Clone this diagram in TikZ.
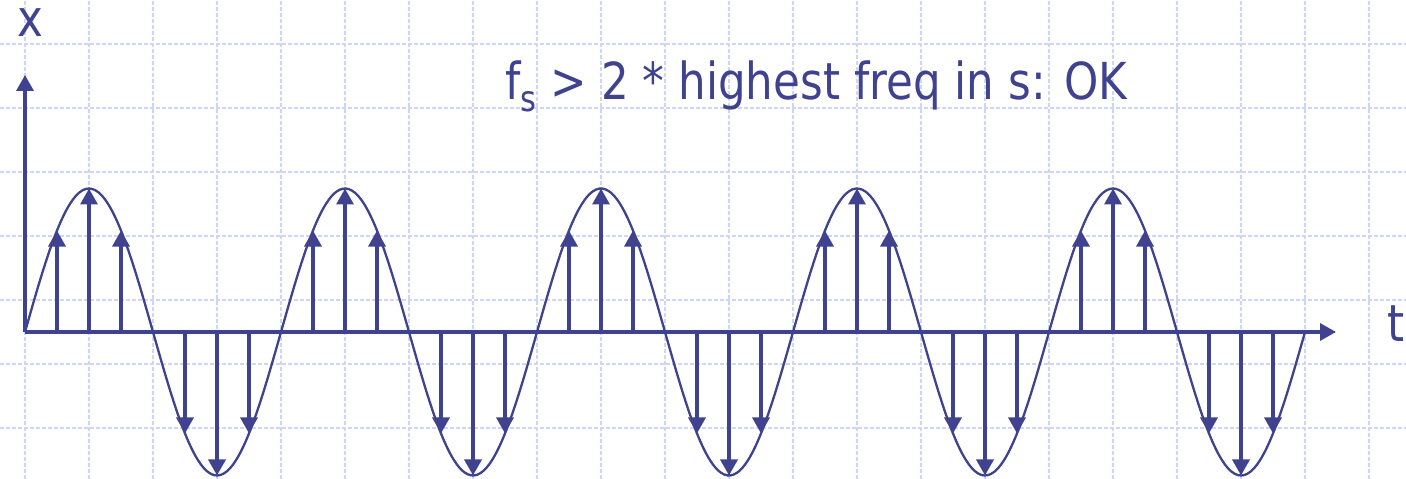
\documentclass[tikz,border=0pt]{standalone}
\usepackage{fontspec}
\setmainfont[FakeStretch=0.855]{DejaVu Sans}
\usetikzlibrary{arrows.meta}
\definecolor{sigblue}{RGB}{62,66,143}
\definecolor{gridblue}{RGB}{206,213,248}

\begin{document}
\begin{tikzpicture}[x=1pt,y=1pt,
    gridline/.style={gridblue, line width=1.5pt, dash pattern=on 4pt off 2pt},
    axis/.style={sigblue, line width=3.4pt, -{Triangle[length=16pt,width=17pt]}},
    stem/.style={sigblue, line width=3.4pt, -{Triangle[length=16pt,width=17pt]}},
    label/.style={sigblue, font=\fontsize{51}{56}\selectfont, inner sep=0pt}]
        \useasboundingbox (0,0) rectangle (1406,479);
        % grid
        \foreach \i in {0,...,21} \draw[gridline] (25+64*\i,0) -- (25+64*\i,479);
        \foreach \j in {0,...,6} \draw[gridline] (0,51+64*\j) -- (1406,51+64*\j);
        \begin{scope}[shift={(25,147)}]
        \draw[axis] (0,0) -- (1311,0);
        \draw[axis] (0,0) -- (0,257);
        \draw[sigblue, line width=2.3pt, domain=0:1280, samples=400, smooth] plot (\x, {143.5*sin(\x/256*360)});
        \foreach \p in {0,...,4}
          \foreach \k in {1,2,3,5,6,7}
            \draw[stem] (\p*256+\k*32,0) -- (\p*256+\k*32,{143.5*sin(\k*45)});
        \end{scope}
        \node[label, anchor=base] (xlab) at (30,442) {x};
        \node[label, anchor=base west] (tlab) at (1387,137) {t};
        \node[label, anchor=base west] (rule) at (505,379) {f\textsubscript{s} > 2 * highest freq in s: OK};
      \end{tikzpicture}
\end{document}
